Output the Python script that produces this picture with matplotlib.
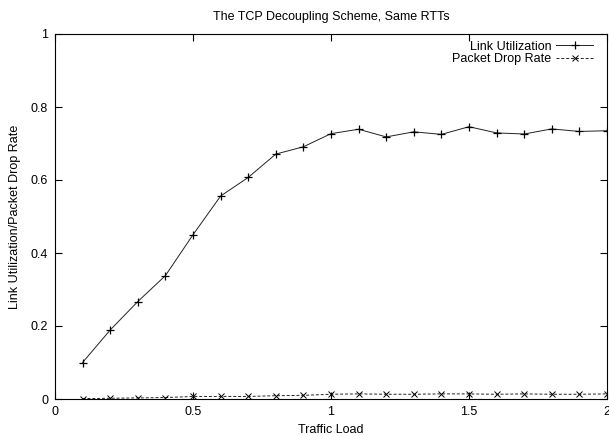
import matplotlib
matplotlib.use("Agg")
import matplotlib.pyplot as plt
from matplotlib.ticker import FuncFormatter

plt.rcParams.update({
    "font.family": ["Liberation Sans", "DejaVu Sans"],
    "font.size": 9,
})

# --- datos ---
traffic_load = [0.1, 0.2, 0.3, 0.4, 0.5, 0.6, 0.7, 0.8, 0.9, 1.0,
                1.1, 1.2, 1.3, 1.4, 1.5, 1.6, 1.7, 1.8, 1.9, 2.0]
link_util = [0.100, 0.189, 0.267, 0.338, 0.450, 0.556, 0.607, 0.671, 0.691, 0.727,
             0.739, 0.718, 0.732, 0.725, 0.746, 0.729, 0.726, 0.740, 0.733, 0.735]
drop_rate = [0.001, 0.002, 0.003, 0.004, 0.007, 0.007, 0.007, 0.009, 0.010, 0.013,
             0.014, 0.013, 0.013, 0.014, 0.014, 0.013, 0.014, 0.013, 0.013, 0.014]
x_ticks = [0, 0.5, 1, 1.5, 2]
y_ticks = [0, 0.2, 0.4, 0.6, 0.8, 1]

fig = plt.figure(figsize=(6.09, 4.36), dpi=100)
ax = fig.add_axes([55 / 609, 37 / 436, 552 / 609, 365 / 436])

ax.plot(traffic_load, link_util, "-", color="#222222", lw=0.7,
        marker="+", ms=6, mew=0.9, mec="black", label="Link Utilization")
ax.plot(traffic_load, drop_rate, "--", color="#222222", lw=0.7, dashes=(3, 2),
        marker="x", ms=4.5, mew=0.7, mec="black", label="Packet Drop Rate")

ax.set_xlim(0, 2)
ax.set_ylim(0, 1)
ax.set_xticks(x_ticks)
ax.set_yticks(y_ticks)
fmt = FuncFormatter(lambda v, p: f"{v:g}")
ax.xaxis.set_major_formatter(fmt)
ax.yaxis.set_major_formatter(fmt)
ax.tick_params(direction="in", length=5, width=0.8, top=True, right=True,
               labelsize=9, pad=5)
for s in ax.spines.values():
    s.set_linewidth(0.8)

ax.set_xlabel("Traffic Load", fontsize=9, labelpad=4)
ax.set_ylabel("Link Utilization/Packet Drop Rate", fontsize=9, labelpad=7)
ax.set_title("The TCP Decoupling Scheme, Same RTTs", fontsize=9, pad=10)

# leyenda estilo gnuplot: texto a la izquierda, muestra a la derecha
ax.legend(loc="upper right", bbox_to_anchor=(0.991, 1.006),
          frameon=False, markerfirst=False, fontsize=9,
          handlelength=3.0, handletextpad=0.35, labelspacing=0.05,
          borderpad=0.2, borderaxespad=0.5)

fig.savefig("out.png", dpi=100, facecolor="white")
